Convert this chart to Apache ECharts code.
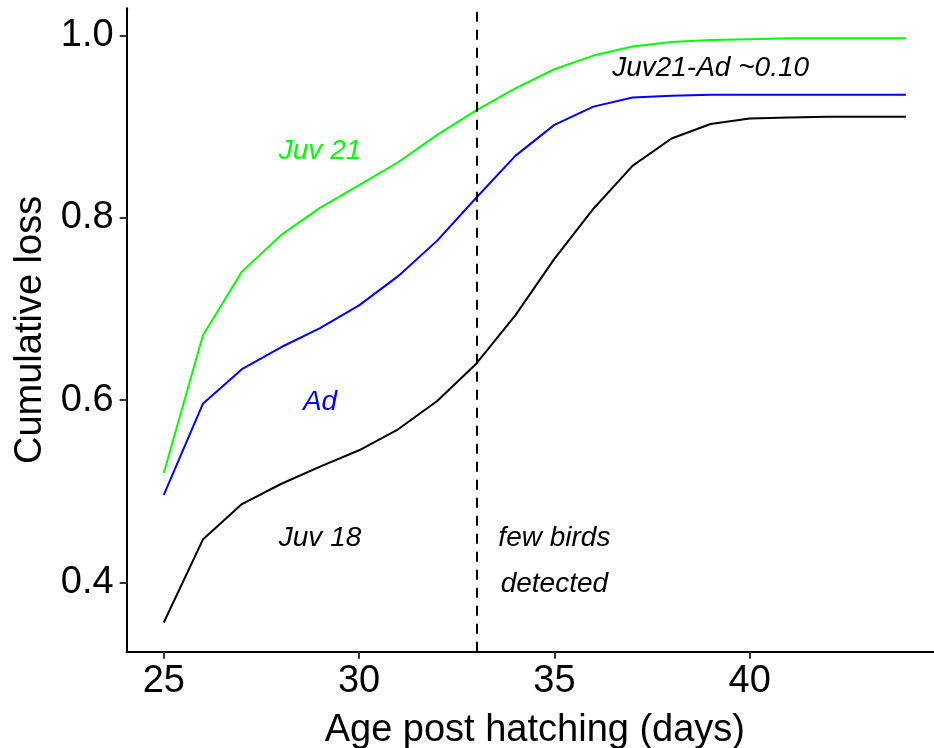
<!DOCTYPE html>
<html>
<head>
<meta charset="utf-8">
<script src="https://cdn.jsdelivr.net/npm/echarts@6/dist/echarts.min.js"></script>
<style>
html,body{margin:0;padding:0;background:#fff;}
#c{width:934px;height:748px;}
</style>
</head>
<body>
<div id="c"></div>
<script>
// Data
const ages = [25,26,27,28,29,30,31,32,33,34,35,36,37,38,39,40,41,42,43,44];
const juv21 = [0.520,0.671,0.741,0.781,0.811,0.836,0.861,0.891,0.918,0.942,0.963,0.978,0.988,0.993,0.995,0.996,0.997,0.997,0.997,0.997];
const adult = [0.496,0.596,0.634,0.658,0.679,0.704,0.736,0.775,0.822,0.868,0.902,0.922,0.932,0.934,0.935,0.935,0.935,0.935,0.935,0.935];
const juv18 = [0.356,0.447,0.486,0.508,0.527,0.545,0.568,0.599,0.640,0.693,0.755,0.810,0.857,0.887,0.903,0.909,0.910,0.911,0.911,0.911];
const xTicks = [25,30,35,40];
const yTicks = [0.4,0.6,0.8,1.0];
const vline = 33;
const annoText = ["Juv 21","Ad","Juv 18","few birds","detected","Juv21-Ad ~0.10"];
const annoX = [29,29,29,35,35,39];
const annoY = [0.873,0.598,0.448,0.448,0.398,0.964];
const annoColor = ["#00ff00","#0000ff","#000000","#000000","#000000","#000000"];

const FONT = "Liberation Sans, Arial, sans-serif";
const chart = echarts.init(document.getElementById('c'), null, {renderer:'canvas'});

function pair(ys){ return ages.map((a,i)=>[a,ys[i]]); }

const option = {
  animation:false,
  backgroundColor:'#ffffff',
  grid:{left:126.7, right:-9, top:8.2, bottom:96.3, containLabel:false, outerBoundsMode:'none'},
  xAxis:{
    type:'value', min:24.05, max:44.95,
    name:'Age post hatching (days)', nameLocation:'middle', nameGap:60,
    nameTextStyle:{fontFamily:FONT, fontSize:38, color:'#000'},
    axisLine:{show:true, onZero:false, lineStyle:{color:'#000', width:2}},
    axisTick:{show:true, length:7, lineStyle:{color:'#333', width:2}, customValues:xTicks},
    axisLabel:{fontFamily:FONT, fontSize:38, color:'#000', margin:11, customValues:xTicks},
    splitLine:{show:false}
  },
  yAxis:{
    type:'value', min:0.324, max:1.030,
    name:'Cumulative loss', nameLocation:'middle', nameGap:77, nameRotate:90,
    nameTextStyle:{fontFamily:FONT, fontSize:38, color:'#000'},
    axisLine:{show:true, onZero:false, lineStyle:{color:'#000', width:2}},
    axisTick:{show:true, length:7, lineStyle:{color:'#333', width:2}, customValues:yTicks},
    axisLabel:{fontFamily:FONT, fontSize:38, color:'#000', margin:13, customValues:yTicks,
      formatter:v=>Number(v).toFixed(1)},
    splitLine:{show:false}
  },
  series:[
    {type:'line', name:'Juv 21', data:pair(juv21), showSymbol:false, smooth:false,
      lineStyle:{color:'#00ff00', width:2}, itemStyle:{color:'#00ff00'}},
    {type:'line', name:'Ad', data:pair(adult), showSymbol:false, smooth:false,
      lineStyle:{color:'#0000ff', width:2}, itemStyle:{color:'#0000ff'}},
    {type:'line', name:'Juv 18', data:pair(juv18), showSymbol:false, smooth:false,
      lineStyle:{color:'#000000', width:2}, itemStyle:{color:'#000000'},
      markLine:{silent:true, symbol:['none','none'], label:{show:false},
        lineStyle:{color:'#000', width:2, type:[10,8]},
        data:[{xAxis:vline}]}},
    {type:'scatter', name:'annotations', symbolSize:0, itemStyle:{opacity:1},
      data:annoText.map((t,i)=>({value:[annoX[i],annoY[i]], name:t,
        label:{color:annoColor[i]}})),
      label:{show:true, position:'inside', formatter:p=>p.name,
        fontFamily:FONT, fontSize:28, fontStyle:'italic', align:'center', verticalAlign:'middle'}}
  ]
};
chart.setOption(option);
</script>
</body>
</html>
